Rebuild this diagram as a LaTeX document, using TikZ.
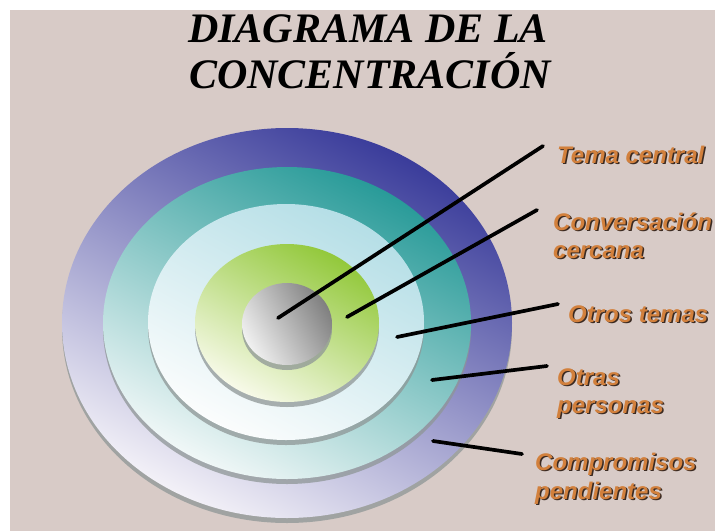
\documentclass[tikz,border=0pt]{standalone}
\usepackage{fontspec}
\setmainfont{Liberation Sans}
\newfontfamily\titlefont{Liberation Serif}
\definecolor{bgc}{HTML}{D8CBC7}
\definecolor{lblc}{HTML}{D2803C}
\definecolor{lblsh}{HTML}{3A2A22}
\definecolor{shadc}{HTML}{8E9696}
\definecolor{blueD}{HTML}{393B9A}
\definecolor{blueM}{HTML}{5454A8}
\definecolor{blueL}{HTML}{F4F2F8}
\definecolor{tealD}{HTML}{279A98}
\definecolor{tealM}{HTML}{48A8A8}
\definecolor{tealL}{HTML}{F2F8F8}
\definecolor{cyanD}{HTML}{B4DEE6}
\definecolor{cyanL}{HTML}{FCFDFD}
\definecolor{greenD}{HTML}{92C83A}
\definecolor{greenM}{HTML}{A2D050}
\definecolor{greenL}{HTML}{F8FAEA}
\definecolor{grayD}{HTML}{808080}
\definecolor{grayM}{HTML}{ABABAB}
\definecolor{grayL}{HTML}{F0F0F0}
\begin{document}
\begin{tikzpicture}[x=1pt,y=-1pt,
  discshadow/.style={fill=shadc, opacity=0.75},
  lbl/.style={font=\fontsize{24}{28}\selectfont\bfseries\itshape, text=lblc, inner sep=0pt, anchor=base west},
  lblshadow/.style={font=\fontsize{24}{28}\selectfont\bfseries\itshape, text=lblsh, inner sep=0pt, anchor=base west},
  ttl/.style={font=\titlefont\fontsize{42}{46}\selectfont\bfseries\itshape, text=black, inner sep=0pt, anchor=base},
  pointer/.style={line width=3.7pt, black, line cap=round}
]
\useasboundingbox (0,0) rectangle (715,531);
\fill[white] (0,0) rectangle (715,531);
\fill[bgc] (10,10) rectangle (715,531);

% title
\node[ttl] (t1) at (368,42) {DIAGRAMA DE LA};
\node[ttl] (t2) at (370,88) {CONCENTRACIÓN};

% discs
\fill[discshadow] (287,328) ellipse [x radius=225, y radius=195];
\shade[top color=blueD, middle color=blueM, bottom color=blueL, shading angle=-28] (287,323) ellipse [x radius=225, y radius=195];
\fill[discshadow] (287,328) ellipse [x radius=184, y radius=156];
\shade[top color=tealD, middle color=tealM, bottom color=tealL, shading angle=-28] (287,323) ellipse [x radius=184, y radius=156];
\fill[discshadow] (286,327) ellipse [x radius=138, y radius=118];
\shade[top color=cyanD, middle color=cyanD!80!white, bottom color=cyanL, shading angle=-28] (286,322) ellipse [x radius=138, y radius=118];
\fill[discshadow] (287,328) ellipse [x radius=92, y radius=79];
\shade[top color=greenD, middle color=greenM, bottom color=greenL, shading angle=-30] (287,323) ellipse [x radius=92, y radius=79];
\fill[discshadow] (287,329) ellipse [x radius=45, y radius=41];
\shade[top color=grayD, middle color=grayM, bottom color=grayL, shading angle=-60] (287,324) ellipse [x radius=45, y radius=41];

% pointer ends
\coordinate (p1) at (278,318);
\coordinate (q1) at (543,146);
\coordinate (p2) at (347,317);
\coordinate (q2) at (537,210);
\coordinate (p3) at (397,337);
\coordinate (q3) at (558,304);
\coordinate (p4) at (432,380);
\coordinate (q4) at (547,366);
\coordinate (p5) at (433,441);
\coordinate (q5) at (522,454);

\draw[pointer] (p1) -- (q1);
\draw[pointer] (p2) -- (q2);
\draw[pointer] (p3) -- (q3);
\draw[pointer] (p4) -- (q4);
\draw[pointer] (p5) -- (q5);

% labels
\node[lblshadow] (l1s) at (558.5,164.5) {Tema central};
\node[lbl] (l1) at (557,163) {Tema central};
\node[lblshadow] (l2s) at (554.5,231.5) {Conversación};
\node[lbl] (l2) at (553,230) {Conversación};
\node[lblshadow] (l2bs) at (554.5,259.5) {cercana};
\node[lbl] (l2b) at (553,258) {cercana};
\node[lblshadow] (l3s) at (569.5,323.5) {Otros temas};
\node[lbl] (l3) at (568,322) {Otros temas};
\node[lblshadow] (l4s) at (558.5,386.5) {Otras};
\node[lbl] (l4) at (557,385) {Otras};
\node[lblshadow] (l4bs) at (558.5,414.5) {personas};
\node[lbl] (l4b) at (557,413) {personas};
\node[lblshadow] (l5s) at (536.5,471.5) {Compromisos};
\node[lbl] (l5) at (535,470) {Compromisos};
\node[lblshadow] (l5bs) at (536.5,500.5) {pendientes};
\node[lbl] (l5b) at (535,499) {pendientes};
\end{tikzpicture}
\end{document}
